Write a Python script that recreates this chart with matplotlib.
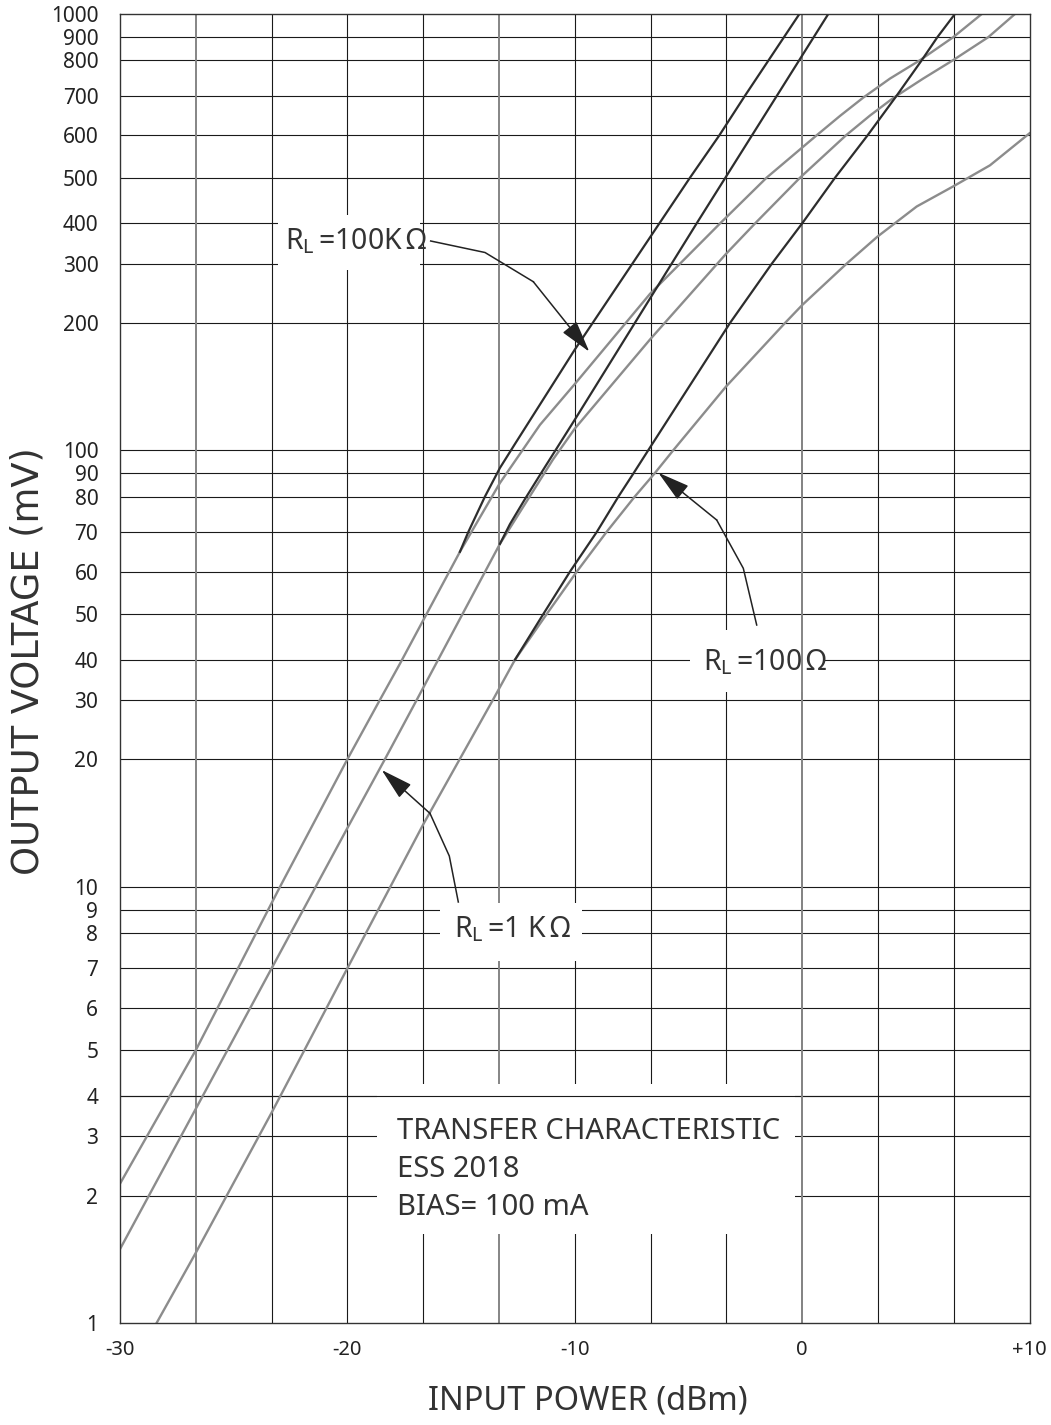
import numpy as np
import matplotlib
matplotlib.use("Agg")
import matplotlib.pyplot as plt
from matplotlib.patches import Rectangle
from matplotlib.ticker import NullLocator

# curves: input power (dBm) -> output voltage (mV)
gray_100k_dbm = [-30, -26.67, -22.96, -20.0, -18.57, -17.69, -15.05, -13.29, -11.53, -10.0,
                 -6.69, -3.61, -1.56, 0.64, 1.67, 2.69, 3.86, 5.18, 6.65, 7.9]
gray_100k_mv = [2.2, 5.0, 10, 20, 30, 39, 65, 85.9, 120, 152, 249, 400, 500, 600, 649, 695,
                748, 800, 900, 1000]

gray_1k_dbm = [-30, -26.67, -23.33, -20.0, -18.35, -16.95, -13.29, -10.96, -10.0,
               -6.69, -3.35, -2.07, -0.09, 1.93, 2.99, 4.01, 5.32, 6.65, 8.19, 9.36]
gray_1k_mv = [1.58, 3.68, 7.0, 14.6, 20, 30, 67, 96, 117, 187, 324, 400, 500, 600, 650, 694,
              748, 801, 900, 1000]

gray_100_dbm = [-28.39, -26.67, -23.33, -20.0, -16.66, -13.6, -12.63, -11.23, -9.91, -8.6, -7.36,
                -6.49, -5.67, -3.35, -0.75, 0.0, 1.96, 3.31, 5.04, 6.65, 8.26, 10.0]
gray_100_mv = [1.0, 1.55, 3.59, 7.0, 14.9, 30, 40, 50, 60, 70, 80, 90, 100, 150, 200, 230,
               300, 367, 437, 481, 529, 605]

black_100k_dbm = [-15.05, -14.68, -13.95, -13.29, -12.63, -10.0, -7.48, -4.93, -3.64, -2.51, -0.12]
black_100k_mv = [65, 70, 80, 92.4, 105, 179, 299, 500, 600, 700, 1000]

black_1k_dbm = [-13.29, -12.85, -12.19, -11.31, -10.0, -4.64, 1.15]
black_1k_mv = [67, 72.2, 79.3, 92.8, 124, 400, 1000]

black_100_dbm = [-12.63, -11.38, -10.21, -9.03, -8.08, -7.42, -6.77, -3.17, -1.33, 0.0, 1.45,
                 2.88, 4.16, 5.26, 5.95, 6.72]
black_100_mv = [40, 50, 60, 70, 80, 90, 100, 200, 300, 400, 500, 600, 700, 800, 900, 1000]

x_ticks = [-30, -20, -10, 0, 10]
x_labels = ["-30", "-20", "-10", "0", "+10"]
y_ticks = [1, 2, 3, 4, 5, 6, 7, 8, 9, 10, 20, 30, 40, 50, 60, 70, 80, 90, 100,
           200, 300, 400, 500, 600, 700, 800, 900, 1000]

# the printed grid is not a true log scale: where 1..10 sit inside each decade
decade_frac = [0, 0.292, 0.428, 0.520, 0.625, 0.722, 0.813, 0.894, 0.947, 1.0]
decade_mult = list(range(1, 11))


def fwd(v):
    v = np.clip(np.asarray(v, dtype=float), 1e-6, None)
    d = np.floor(np.log10(v) + 1e-9)
    return d + np.interp(v / 10.0 ** d, decade_mult, decade_frac)


def inv(p):
    p = np.asarray(p, dtype=float)
    d = np.floor(p)
    return 10.0 ** d * np.interp(p - d, decade_frac, decade_mult)


NARROW = ['Noto Sans Condensed', 'Liberation Sans Narrow', 'DejaVu Sans Condensed', 'Noto Sans']
plt.rcParams['font.family'] = NARROW
plt.rcParams['font.stretch'] = 'condensed'
plt.rcParams['axes.unicode_minus'] = False

W, H = 1051, 1425
L, R, T, B = 120, 1029.5, 14, 1323   # plot frame in pixels

fig = plt.figure(figsize=(W / 100, H / 100), dpi=100)
ax = fig.add_axes([L / W, 1 - B / H, (R - L) / W, (B - T) / H])
ax.set_yscale('function', functions=(fwd, inv))
ax.set_xlim(-30, 10)
ax.set_ylim(1, 1000)


def frac(xp, yp):
    return (xp - L) / (R - L), (B - yp) / (B - T)


# grid
for v in y_ticks[1:-1]:
    ax.axhline(v, color='#1a1a1a', lw=0.8, zorder=1)
x_grid = np.linspace(-30, 10, 13)[1:-1]
for i, v in enumerate(x_grid, 1):
    if i % 4 == 1:
        ax.axvline(v, color='#858585', lw=1.4, zorder=1)
    else:
        ax.axvline(v, color='#1a1a1a', lw=0.8, zorder=1)

# white label boxes cutting the grid
for x0, y0, x1, y1 in [(278, 215, 420, 270), (690, 630, 823, 692),
                       (440, 903, 582, 961), (377, 1084, 795, 1234)]:
    fx, fy = frac(x0, y1)
    ax.add_patch(Rectangle((fx, fy), (x1 - x0) / (R - L), (y1 - y0) / (B - T),
                           transform=ax.transAxes, facecolor='white', edgecolor='none', zorder=2))
ax.axhline(4, color='#1a1a1a', lw=0.8, zorder=2.5)
ax.axvline(0, color='#858585', lw=1.4, zorder=2.5)

gray = '#8c8c8c'
dark = '#2d2d2d'
ax.plot(gray_100k_dbm, gray_100k_mv, color=gray, lw=1.7, zorder=3)
ax.plot(gray_1k_dbm, gray_1k_mv, color=gray, lw=1.7, zorder=3)
ax.plot(gray_100_dbm, gray_100_mv, color=gray, lw=1.7, zorder=3)
ax.plot(black_100k_dbm, black_100k_mv, color=dark, lw=1.6, zorder=4)
ax.plot(black_1k_dbm, black_1k_mv, color=dark, lw=1.6, zorder=4)
ax.plot(black_100_dbm, black_100_mv, color=dark, lw=1.6, zorder=4)

txt = '#333333'

for x, base, s in [(285, 249.3, r"R$_\mathregular{L}\,$=100K$\,$Ω"),
                   (703.3, 670, r"R$_\mathregular{L}\,$=100$\,$Ω"),
                   (454, 937.2, r"R$_\mathregular{L}\,$=1 K$\,$Ω")]:
    ax.text(*frac(x, base), s, transform=ax.transAxes, fontsize=20.5, color=txt,
            ha='left', va='baseline', zorder=5)

for path, tip in [([(430.7, 241), (485, 252.5), (533.3, 281.7)], (589.3, 351.7)),
                  ([(756.7, 625), (743.3, 568.3), (716.7, 520)], (658.3, 472.7)),
                  ([(458.3, 902), (449.3, 856), (430, 813.4)], (381.7, 770))]:
    pts = [frac(*p) for p in path]
    ax.plot([p[0] for p in pts], [p[1] for p in pts], color='#222222', lw=1.1,
            transform=ax.transAxes, zorder=5)
    ax.annotate('', xy=frac(*tip), xytext=pts[-1], xycoords='axes fraction',
                textcoords='axes fraction',
                arrowprops=dict(arrowstyle='-|>,head_length=2.0,head_width=0.55',
                                mutation_scale=10, color='#222222', lw=1.1,
                                shrinkA=0, shrinkB=0), zorder=5)

for base, s in [(1139.3, "TRANSFER CHARACTERISTIC"), (1176.7, "ESS 2018"), (1215, "BIAS= 100 mA")]:
    ax.text(*frac(397, base), s, transform=ax.transAxes, fontsize=21, color=txt,
            ha='left', va='baseline', zorder=5)

ax.set_xticks(x_ticks, x_labels)
ax.set_yticks(y_ticks, [str(v) for v in y_ticks])
ax.yaxis.set_minor_locator(NullLocator())
ax.xaxis.set_minor_locator(NullLocator())
ax.tick_params(axis='x', length=0, pad=12, labelsize=14.5, labelcolor='#222222')
ax.tick_params(axis='y', length=0, pad=15.6, labelsize=15, labelcolor='#222222')
for s in ax.spines.values():
    s.set_color('#333333')
    s.set_linewidth(1.0)
    s.set_zorder(6)

fig.text(588 / W, 1 - 1410 / H, 'INPUT POWER (dBm)', ha='center', va='baseline',
         fontsize=23.5, color=txt)
fig.text(28 / W, 1 - 661.5 / H, 'OUTPUT VOLTAGE (mV)', rotation=90, ha='center', va='center',
         fontsize=26.5, color=txt, family=['DejaVu Sans'], stretch='normal')

fig.savefig('out.png', dpi=100, facecolor='white')
